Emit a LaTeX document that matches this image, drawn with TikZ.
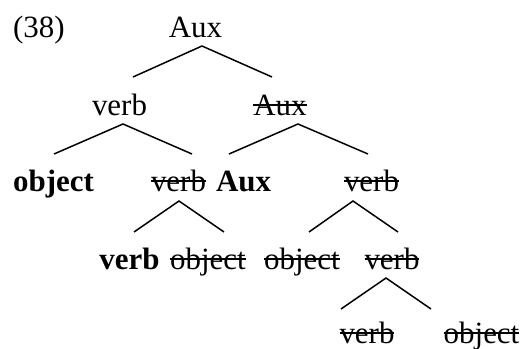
\documentclass[tikz,border=0pt]{standalone}
\usepackage{fontspec}
\setmainfont{Liberation Serif}
\usetikzlibrary{positioning}
\newsavebox\strkbox
\newcommand{\strk}[1]{\sbox\strkbox{#1}\rlap{\usebox\strkbox}\rule[0.29em]{\wd\strkbox}{0.065em}}
\begin{document}
\begin{tikzpicture}[x=0.2cm,y=0.2cm,wd/.style={anchor=base,inner sep=0pt,font=\fontsize{17.6}{21}\selectfont},bf/.style={wd,font=\fontsize{17.6}{21}\selectfont\bfseries},br/.style={line width=0.85pt}]
  \useasboundingbox (0,0) rectangle (52.5,34.8);
  \node[wd,anchor=base west] (ex) at (1.27,31.1) {(38)};
  % rows of the tree
  \node[wd] (aux0) at (19.55,31.1) {Aux};
  \node[wd] (verb1) at (11.95,23.3) {verb};
  \node[wd] (aux1) at (28.0,23.3) {\strk{Aux}};
  \node[bf] (obj2) at (5.35,15.7) {object};
  \node[wd] (verb2) at (17.85,15.7) {\strk{verb}};
  \node[bf] (aux2) at (24.35,15.7) {Aux};
  \node[wd] (verb2b) at (37.15,15.7) {\strk{verb}};
  \node[bf] (verb3) at (12.95,7.9) {verb};
  \node[wd] (obj3) at (20.8,7.9) {\strk{object}};
  \node[wd] (obj3b) at (30.2,7.9) {\strk{object}};
  \node[wd] (verb3b) at (39.2,7.9) {\strk{verb}};
  \node[wd] (verb4) at (36.7,0.5) {\strk{verb}};
  \node[wd] (obj4) at (48.15,0.5) {\strk{object}};
  % branch points
  \coordinate (t0) at (20.2,30.2);
  \coordinate (l0) at (13.3,27.1);
  \coordinate (r0) at (27.2,27.1);
  \coordinate (t1) at (12.3,22.4);
  \coordinate (l1) at (5.4,19.4);
  \coordinate (r1) at (19.2,19.4);
  \coordinate (t2) at (29.8,22.4);
  \coordinate (l2) at (22.9,19.4);
  \coordinate (r2) at (36.8,19.4);
  \coordinate (t3) at (17.9,14.7);
  \coordinate (l3) at (13.4,11.6);
  \coordinate (r3) at (22.4,11.6);
  \coordinate (t4) at (35.3,14.7);
  \coordinate (l4) at (30.9,11.6);
  \coordinate (r4) at (39.8,11.6);
  \coordinate (t5) at (38.6,7.0);
  \coordinate (l5) at (34.1,3.9);
  \coordinate (r5) at (43.1,3.9);
  \draw[br] (l0) -- (t0) -- (r0);
  \draw[br] (l1) -- (t1) -- (r1);
  \draw[br] (l2) -- (t2) -- (r2);
  \draw[br] (l3) -- (t3) -- (r3);
  \draw[br] (l4) -- (t4) -- (r4);
  \draw[br] (l5) -- (t5) -- (r5);
\end{tikzpicture}
\end{document}
